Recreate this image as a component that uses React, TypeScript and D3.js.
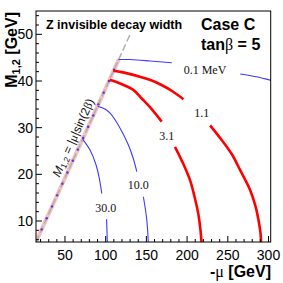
import React from 'react';
import * as d3 from 'd3';

// axis ticks
const xMajor = [50, 100, 150, 200, 250, 300];
const xMinor = [20, 30, 40, 60, 70, 80, 90, 110, 120, 130, 140, 160, 170, 180, 190, 210, 220, 230, 240, 260, 270, 280, 290];
const yMajor = [10, 20, 30, 40, 50];
const yMinor = [6, 8, 12, 14, 16, 18, 22, 24, 26, 28, 32, 34, 36, 38, 42, 44, 46, 48, 52, 54];

// tan(beta) = 5 -> sin(2 beta)
const tanBeta = 5;
const sin2b = (2 * tanBeta) / (1 + tanBeta * tanBeta);
const bandMu = [14.4, 116];
const dashMu = [14.4, 130];
const scanM = [8.2, 10.6, 13.1, 15.5, 18.0, 20.4, 22.9, 25.3, 27.8, 30.2, 32.6, 35.0, 37.5, 40.0, 42.4];

// contours: [-mu, M12], split where the label sits
const c01 = [
  [[115.6, 44.6], [130, 44.6], [154.6, 44.3], [181.2, 43.9]],
  [[265.2, 41.5], [285, 40.9], [304, 40.1]],
];
const c11 = [
  [[109.4, 42.2], [120, 41.9], [142, 40.9], [155, 40.2], [168, 39.2], [182, 37.8], [195.5, 36.1]],
  [[228.3, 30.5], [242.7, 27.3], [255, 24.3], [265.2, 20.9], [277.5, 16.6], [284, 13.2], [287.7, 10.2], [290.3, 7.2], [291, 4]],
];
const c31 = [
  [[105, 40.2], [108, 40.1], [120, 39.3], [133.9, 38.1], [144, 36.3], [154.4, 34.4], [168.8, 31.3]],
  [[185.1, 25.9], [194.9, 22.4], [203.5, 18.8], [209, 15.3], [213.7, 11.6], [216.5, 8], [218.2, 4]],
];
const c10 = [
  [[90, 34.6], [99.2, 34.0], [105.4, 33.1], [111.5, 31.7], [118.9, 29.5], [127.9, 26.3], [133.7, 23.5], [138.2, 20.6]],
  [[146.3, 15.2], [150.5, 10.2], [152.7, 4]],
];
const c30 = [
  [[71.8, 27.5], [80.8, 25.2], [88.2, 22.0], [92.5, 18.8], [95.2, 15.9]],
  [[101.1, 10.4], [102.3, 4]],
];
const contours = [
  { segs: c01, color: '#3a3aff', w: 1.1 },
  { segs: c11, color: '#ff0000', w: 2.6 },
  { segs: c31, color: '#ff0000', w: 2.6 },
  { segs: c10, color: '#3a3aff', w: 1.1 },
  { segs: c30, color: '#3a3aff', w: 1.1 },
];
const labelText = ['0.1 MeV', '1.1', '3.1', '10.0', '30.0'];
const labelMu = [222.0, 217.9, 174.9, 140.0, 100.0];
const labelM = [42.3, 33.1, 28.2, 17.7, 12.9];

const W = 283, H = 283;
const left = 36, right = 270.7, top = 11, bottom = 242;

export default function App() {
  const x = d3.scaleLinear().domain([14.4, 302.7]).range([left, right]);
  const y = d3.scaleLinear().domain([5.5, 55]).range([bottom, top]);
  const line = d3.line<number[]>().x(d => x(d[0])).y(d => y(d[1])).curve(d3.curveCatmullRom.alpha(0.5));
  const sans = 'Liberation Sans, Arial, Helvetica, sans-serif';
  const serif = 'Liberation Serif, Times New Roman, serif';

  const ang = Math.atan2(y(50 * sin2b) - y(10 * sin2b), x(50) - x(10)) * 180 / Math.PI;
  const rad = ang * Math.PI / 180;
  const nx = Math.sin(rad), ny = -Math.cos(rad);
  const lx = x(49) + nx * 5, ly = y(49 * sin2b) + ny * 5;

  return (
    <div style={{ position: 'absolute', left: 0, top: 0 }}>
      <svg width={W} height={H} style={{ display: 'block', background: '#fff' }}>
        <defs>
          <clipPath id="plot"><rect x={left} y={top} width={right - left} height={bottom - top} /></clipPath>
        </defs>
        <g clipPath="url(#plot)">
          <line x1={x(bandMu[0])} y1={y(bandMu[0] * sin2b)} x2={x(bandMu[1])} y2={y(bandMu[1] * sin2b)} stroke="#f4c0c0" strokeWidth={4} />
          <line x1={x(dashMu[0])} y1={y(dashMu[0] * sin2b)} x2={x(dashMu[1])} y2={y(dashMu[1] * sin2b)} stroke="#b0b0b0" strokeWidth={1.5} strokeDasharray="7,3" />
          {scanM.map((m, i) => (
            <circle key={i} cx={x(m / sin2b)} cy={y(m)} r={1.2} fill="#6a2ad0" />
          ))}
          {contours.map((c, i) => c.segs.map((s, j) => (
            <path key={i + '-' + j} d={line(s as number[][]) || ''} fill="none" stroke={c.color} strokeWidth={c.w} />
          )))}
        </g>
        {labelText.map((t, i) => (
          <text key={i} x={x(labelMu[i])} y={y(labelM[i])} dy="0.35em" textAnchor="middle" fontFamily={serif} fontSize={12} fill="#111">{t}</text>
        ))}
        <text transform={`translate(${lx},${ly}) rotate(${ang})`} fontFamily={sans} fontSize={12} fill="#111">
          <tspan fontStyle="italic">M</tspan><tspan fontSize={8.5} dy={2}>1,2</tspan><tspan dy={-2}> = |</tspan><tspan fontFamily={serif}>μ</tspan><tspan>|sin(2</tspan><tspan fontFamily={serif}>β</tspan><tspan>)</tspan>
        </text>
        <rect x={left} y={top} width={right - left} height={bottom - top} fill="none" stroke="#000" strokeWidth={1} />
        {xMajor.map(v => (
          <g key={v}>
            <line x1={x(v)} x2={x(v)} y1={bottom} y2={bottom - 6} stroke="#000" />
            <text x={x(v)} y={bottom + 17.5} textAnchor="middle" fontFamily={sans} fontSize={14}>{v}</text>
          </g>
        ))}
        {xMinor.map(v => <line key={v} x1={x(v)} x2={x(v)} y1={bottom} y2={bottom - 3} stroke="#000" />)}
        {yMajor.map(v => (
          <g key={v}>
            <line x1={left} x2={left + 6} y1={y(v)} y2={y(v)} stroke="#000" />
            <text x={left - 3} y={y(v)} dy="0.36em" textAnchor="end" fontFamily={sans} fontSize={14}>{v}</text>
          </g>
        ))}
        {yMinor.map(v => <line key={v} x1={left} x2={left + 3} y1={y(v)} y2={y(v)} stroke="#000" />)}
        <text x={46} y={29} fontFamily={sans} fontWeight="bold" fontSize={12.5}>Z invisible decay width</text>
        <text x={201} y={30} fontFamily={sans} fontWeight="bold" fontSize={16}>Case C</text>
        <text x={201} y={49.5} fontFamily={sans} fontWeight="bold" fontSize={16}>tan<tspan fontFamily={serif} fontWeight="normal">β</tspan> = 5</text>
        <text x={271} y={277} textAnchor="end" fontFamily={sans} fontWeight="bold" fontSize={16}>-<tspan fontFamily={serif} fontWeight="normal">μ</tspan> [GeV]</text>
        <text transform="translate(17,12) rotate(-90)" textAnchor="end" fontFamily={sans} fontWeight="bold" fontSize={16}>M<tspan fontSize={11} dy={3}>1,2</tspan><tspan dy={-3}> [GeV]</tspan></text>
      </svg>
    </div>
  );
}
